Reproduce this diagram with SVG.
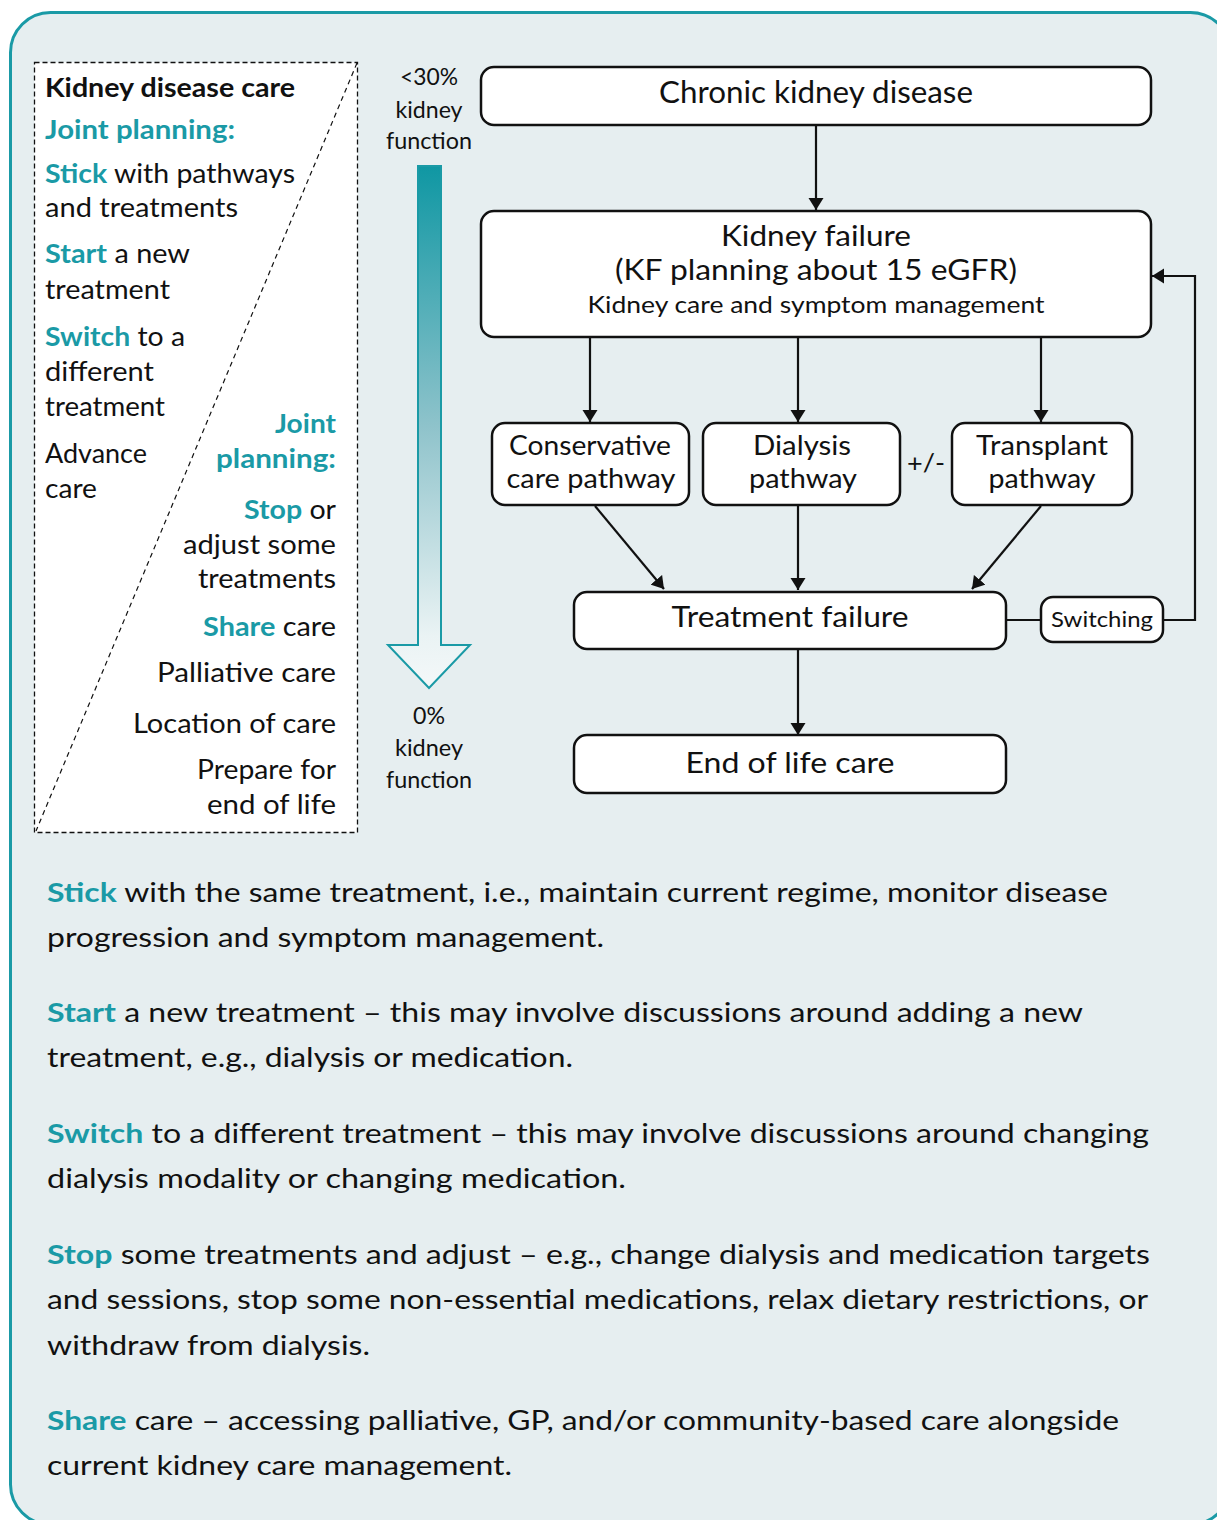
<svg xmlns="http://www.w3.org/2000/svg" width="1217" height="1520" viewBox="0 0 1217 1520">
<style>
.t{font-family:Lato,"Noto Sans","DejaVu Sans",sans-serif;fill:#111;}
.b{font-weight:bold;}
.teal{fill:#1a9aa6;font-weight:bold;}
.lb{font-size:26px;}
.para{font-size:27px;}
.node{fill:#fff;stroke:#111;stroke-width:2.5;}
.nt{font-family:Lato,"Noto Sans","DejaVu Sans",sans-serif;fill:#111;text-anchor:middle;}
.c{stroke:#111;stroke-width:2.2;fill:none;}
.c.a{marker-end:url(#ah);}
.lbl{font-family:Lato,"Noto Sans","DejaVu Sans",sans-serif;fill:#111;font-size:23px;text-anchor:middle;}
</style>
<defs>
<marker id="ah" markerUnits="userSpaceOnUse" markerWidth="16" markerHeight="16" refX="12" refY="8" orient="auto" viewBox="0 0 16 16">
<path d="M0,0.5 L12,8 L0,15.5 z" fill="#111"/>
</marker>
<linearGradient id="g" x1="0" y1="166" x2="0" y2="688" gradientUnits="userSpaceOnUse">
<stop offset="0" stop-color="#0f97a3"/>
<stop offset="0.5" stop-color="#8fc3cb"/>
<stop offset="0.9" stop-color="#eaf3f4"/>
<stop offset="1" stop-color="#f4f8f9"/>
</linearGradient>
</defs>
<g id="frame">
<rect x="10.5" y="12.5" width="1220" height="1512" rx="40" fill="#e6eef0" stroke="#1a9aa6" stroke-width="3"/>
</g>
<g id="legend">
<rect x="34.5" y="62.5" width="323" height="770" fill="#fff" stroke="#111" stroke-width="1.3" stroke-dasharray="5,3"/>
<line x1="357" y1="63" x2="36" y2="831" stroke="#111" stroke-width="1.2" stroke-dasharray="5,4"/>
<text class="t lb b" x="45" y="97" textLength="250" lengthAdjust="spacingAndGlyphs">Kidney disease care</text>
<text class="t lb teal" x="45" y="139" textLength="190" lengthAdjust="spacingAndGlyphs">Joint planning:</text>
<text class="t lb" x="45" y="183" textLength="250" lengthAdjust="spacingAndGlyphs"><tspan class="teal">Stick</tspan> with pathways</text>
<text class="t lb" x="45" y="217" textLength="193" lengthAdjust="spacingAndGlyphs">and treatments</text>
<text class="t lb" x="45" y="263" textLength="145" lengthAdjust="spacingAndGlyphs"><tspan class="teal">Start</tspan> a new</text>
<text class="t lb" x="45" y="299" textLength="125" lengthAdjust="spacingAndGlyphs">treatment</text>
<text class="t lb" x="45" y="346" textLength="140" lengthAdjust="spacingAndGlyphs"><tspan class="teal">Switch</tspan> to a</text>
<text class="t lb" x="45" y="381" textLength="109" lengthAdjust="spacingAndGlyphs">different</text>
<text class="t lb" x="45" y="416" textLength="120" lengthAdjust="spacingAndGlyphs">treatment</text>
<text class="t lb" x="45" y="463" textLength="102" lengthAdjust="spacingAndGlyphs">Advance</text>
<text class="t lb" x="45" y="498" textLength="52" lengthAdjust="spacingAndGlyphs">care</text>
<g text-anchor="end">
<text class="t lb teal" x="336" y="433" textLength="61" lengthAdjust="spacingAndGlyphs">Joint</text>
<text class="t lb teal" x="336" y="468" textLength="120" lengthAdjust="spacingAndGlyphs">planning:</text>
<text class="t lb" x="336" y="519" textLength="92" lengthAdjust="spacingAndGlyphs"><tspan class="teal">Stop</tspan> or</text>
<text class="t lb" x="336" y="554" textLength="153" lengthAdjust="spacingAndGlyphs">adjust some</text>
<text class="t lb" x="336" y="588" textLength="138" lengthAdjust="spacingAndGlyphs">treatments</text>
<text class="t lb" x="336" y="636" textLength="133" lengthAdjust="spacingAndGlyphs"><tspan class="teal">Share</tspan> care</text>
<text class="t lb" x="336" y="682" textLength="179" lengthAdjust="spacingAndGlyphs">Palliative care</text>
<text class="t lb" x="336" y="733" textLength="203" lengthAdjust="spacingAndGlyphs">Location of care</text>
<text class="t lb" x="336" y="779" textLength="139" lengthAdjust="spacingAndGlyphs">Prepare for</text>
<text class="t lb" x="336" y="814" textLength="129" lengthAdjust="spacingAndGlyphs">end of life</text>
</g>
</g>
<g id="scale">
<path d="M418,166 H441 V645 H470 L429,688 L388,645 H418 Z" fill="url(#g)" stroke="#1a9aa6" stroke-width="2"/>
<text class="lbl" x="429" y="85" textLength="58" lengthAdjust="spacingAndGlyphs">&lt;30%</text>
<text class="lbl" x="429" y="118" textLength="67" lengthAdjust="spacingAndGlyphs">kidney</text>
<text class="lbl" x="429" y="149" textLength="86" lengthAdjust="spacingAndGlyphs">function</text>
<text class="lbl" x="429" y="724" textLength="32" lengthAdjust="spacingAndGlyphs">0%</text>
<text class="lbl" x="429" y="756" textLength="68" lengthAdjust="spacingAndGlyphs">kidney</text>
<text class="lbl" x="429" y="788" textLength="86" lengthAdjust="spacingAndGlyphs">function</text>
</g>
<g id="connectors">
<line class="c a" x1="816" y1="125" x2="816" y2="210"/>
<line class="c a" x1="590" y1="337" x2="590" y2="422"/>
<line class="c a" x1="798" y1="337" x2="798" y2="422"/>
<line class="c a" x1="1041" y1="337" x2="1041" y2="422"/>
<line class="c a" x1="595" y1="506" x2="664" y2="589"/>
<line class="c a" x1="798" y1="506" x2="798" y2="590"/>
<line class="c a" x1="1041" y1="506" x2="972" y2="589"/>
<line class="c" x1="1006" y1="620" x2="1041" y2="620"/>
<path class="c a" d="M1163,620 H1195 V276 H1152"/>
<line class="c a" x1="798" y1="649" x2="798" y2="735"/>
</g>
<g id="node-ckd">
<rect class="node" x="481" y="67" width="670" height="58" rx="13"/>
<text class="nt" x="816" y="103" font-size="30" textLength="314" lengthAdjust="spacingAndGlyphs">Chronic kidney disease</text>
</g>
<g id="node-kf">
<rect class="node" x="481" y="211" width="670" height="126" rx="13"/>
<text class="nt" x="816" y="246" font-size="28" textLength="190" lengthAdjust="spacingAndGlyphs">Kidney failure</text>
<text class="nt" x="816" y="280" font-size="28" textLength="402" lengthAdjust="spacingAndGlyphs">(KF planning about 15 eGFR)</text>
<text class="nt" x="816" y="313" font-size="24" textLength="457" lengthAdjust="spacingAndGlyphs">Kidney care and symptom management</text>
</g>
<g id="node-conservative">
<rect class="node" x="492" y="423" width="197" height="82" rx="13"/>
<text class="nt" x="590" y="455" font-size="27" textLength="162" lengthAdjust="spacingAndGlyphs">Conservative</text>
<text class="nt" x="591" y="488" font-size="27" textLength="169" lengthAdjust="spacingAndGlyphs">care pathway</text>
</g>
<g id="node-dialysis">
<rect class="node" x="703" y="423" width="197" height="82" rx="13"/>
<text class="nt" x="802" y="455" font-size="27" textLength="98" lengthAdjust="spacingAndGlyphs">Dialysis</text>
<text class="nt" x="803" y="488" font-size="27" textLength="108" lengthAdjust="spacingAndGlyphs">pathway</text>
</g>
<g id="plusminus">
<text class="nt" x="926" y="472" font-size="25" textLength="38" lengthAdjust="spacingAndGlyphs">+/-</text>
</g>
<g id="node-transplant">
<rect class="node" x="952" y="423" width="180" height="82" rx="13"/>
<text class="nt" x="1042" y="455" font-size="27" textLength="132" lengthAdjust="spacingAndGlyphs">Transplant</text>
<text class="nt" x="1042" y="488" font-size="27" textLength="107" lengthAdjust="spacingAndGlyphs">pathway</text>
</g>
<g id="node-treatment-failure">
<rect class="node" x="574" y="592" width="432" height="57" rx="13"/>
<text class="nt" x="790" y="627" font-size="29" textLength="237" lengthAdjust="spacingAndGlyphs">Treatment failure</text>
</g>
<g id="node-switching">
<rect class="node" x="1041" y="597" width="122" height="45" rx="12"/>
<text class="nt" x="1102" y="627" font-size="22" textLength="102" lengthAdjust="spacingAndGlyphs">Switching</text>
</g>
<g id="node-eol">
<rect class="node" x="574" y="735" width="432" height="58" rx="13"/>
<text class="nt" x="790" y="773" font-size="29" textLength="209" lengthAdjust="spacingAndGlyphs">End of life care</text>
</g>
<g id="notes">
<text class="t para" x="47" y="902" textLength="1061" lengthAdjust="spacingAndGlyphs"><tspan class="teal">Stick</tspan> with the same treatment, i.e., maintain current regime, monitor disease</text>
<text class="t para" x="47" y="947" textLength="557" lengthAdjust="spacingAndGlyphs">progression and symptom management.</text>
<text class="t para" x="47" y="1022" textLength="1036" lengthAdjust="spacingAndGlyphs"><tspan class="teal">Start</tspan> a new treatment – this may involve discussions around adding a new</text>
<text class="t para" x="47" y="1067" textLength="526" lengthAdjust="spacingAndGlyphs">treatment, e.g., dialysis or medication.</text>
<text class="t para" x="47" y="1143" textLength="1102" lengthAdjust="spacingAndGlyphs"><tspan class="teal">Switch</tspan> to a different treatment – this may involve discussions around changing</text>
<text class="t para" x="47" y="1188" textLength="579" lengthAdjust="spacingAndGlyphs">dialysis modality or changing medication.</text>
<text class="t para" x="47" y="1264" textLength="1103" lengthAdjust="spacingAndGlyphs"><tspan class="teal">Stop</tspan> some treatments and adjust – e.g., change dialysis and medication targets</text>
<text class="t para" x="47" y="1309" textLength="1101" lengthAdjust="spacingAndGlyphs">and sessions, stop some non-essential medications, relax dietary restrictions, or</text>
<text class="t para" x="47" y="1355" textLength="323" lengthAdjust="spacingAndGlyphs">withdraw from dialysis.</text>
<text class="t para" x="47" y="1430" textLength="1072" lengthAdjust="spacingAndGlyphs"><tspan class="teal">Share</tspan> care – accessing palliative, GP, and/or community-based care alongside</text>
<text class="t para" x="47" y="1475" textLength="465" lengthAdjust="spacingAndGlyphs">current kidney care management.</text>
</g>
</svg>
